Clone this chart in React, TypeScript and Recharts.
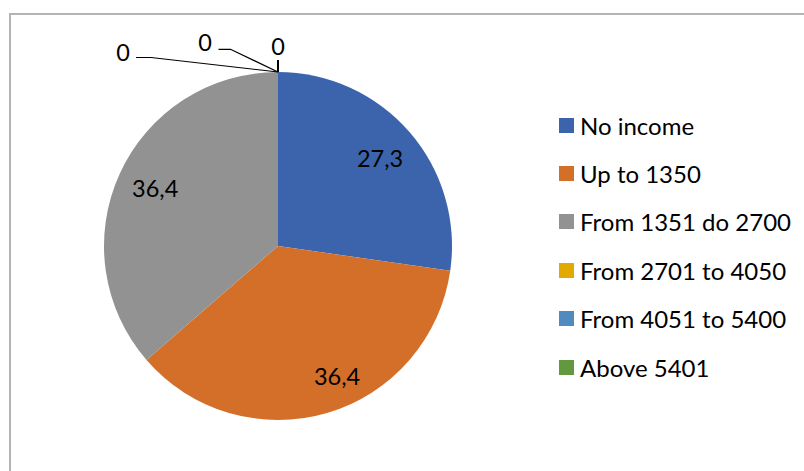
import React from 'react';
import { PieChart, Pie, Cell, Legend } from 'recharts';

const categories = [
  'No income',
  'Up to 1350',
  'From 1351 do 2700',
  'From 2701 to 4050',
  'From 4051 to 5400',
  'Above 5401',
];
const shares = [27.3, 36.4, 36.4, 0, 0, 0];
const colors = ['#3C64AC', '#D46F2A', '#929292', '#E2AA00', '#508ABF', '#62983E'];

const data = categories.map((name, i) => ({ name, value: shares[i] }));

const FONT = 'Lato, "Open Sans", sans-serif';
const RAD = Math.PI / 180;

// small best-fit nudges for the inside labels (px)
const labelNudge = [[0, 0], [21, 0], [0, -2]];

// leader lines for the zero slices, relative to the point where they touch the pie
const zeroLeaders = [
  { line: [[0, 0], [-127, -14.5], [-142, -14.5]], text: [-155, -20] },
  { line: [[0, 0], [-47.5, -22.7], [-59.5, -22.7]], text: [-73, -30] },
  { line: [[0, 0], [0, -12]], text: [0, -26] },
];

const fmt = (v: number) => String(v).replace('.', ',');

const renderLabel = (props: any) => {
  const { cx, cy, midAngle, outerRadius, value, index } = props;
  if (value > 0) {
    const r = 135;
    const [nx, ny] = labelNudge[index] || [0, 0];
    const x = cx + r * Math.cos(-midAngle * RAD) + nx;
    const y = cy + r * Math.sin(-midAngle * RAD) + ny;
    return (
      <text x={x} y={y} fill="#000" fontSize={23.5} fontFamily={FONT} textAnchor="middle" dominantBaseline="central">
        {fmt(value)}
      </text>
    );
  }
  const zi = index - shares.findIndex((s) => s === 0);
  const spec = zeroLeaders[zi];
  if (!spec) return null;
  const ax = cx + outerRadius * Math.cos(-midAngle * RAD);
  const ay = cy + outerRadius * Math.sin(-midAngle * RAD);
  const pts = spec.line.map(([dx, dy]) => `${ax + dx},${ay + dy}`).join(' ');
  return (
    <g>
      <polyline points={pts} fill="none" stroke="#000" strokeWidth={zi === 2 ? 2 : 1.2} />
      <text x={ax + spec.text[0]} y={ay + spec.text[1]} fill="#000" fontSize={23.5} fontFamily={FONT} textAnchor="middle" dominantBaseline="central">
        {fmt(value)}
      </text>
    </g>
  );
};

const renderLegend = () => (
  <div style={{ fontFamily: FONT, fontSize: 24, color: '#000' }}>
    {categories.map((name, i) => (
      <div key={name} style={{ height: 48.4, display: 'flex', alignItems: 'center' }}>
        <span style={{ display: 'inline-block', width: 15, height: 15, background: colors[i], marginRight: 6 }} />
        <span>{name}</span>
      </div>
    ))}
  </div>
);

export default function App() {
  return (
    <div style={{ position: 'absolute', left: 0, top: 0, width: 804, height: 471, background: '#fff', overflow: 'hidden' }}>
      <div style={{ position: 'absolute', left: 9, top: 13, width: 820, height: 480, border: '2px solid #B4B4B4', boxSizing: 'border-box' }} />
      <PieChart
        width={804}
        height={471}
        margin={{ top: 0, right: 0, bottom: 0, left: 0 }}
        style={{ position: 'absolute', left: 0, top: 0 }}
      >
        <Pie
          data={data}
          dataKey="value"
          nameKey="name"
          cx={278}
          cy={246}
          outerRadius={174}
          startAngle={90}
          endAngle={-270}
          stroke="none"
          label={renderLabel}
          labelLine={false}
          isAnimationActive={false}
        >
          {data.map((d, i) => (
            <Cell key={d.name} fill={colors[i]} />
          ))}
        </Pie>
        <Legend
          layout="vertical"
          content={renderLegend}
          wrapperStyle={{ left: 559, top: 101, width: 240 }}
        />
      </PieChart>
    </div>
  );
}
